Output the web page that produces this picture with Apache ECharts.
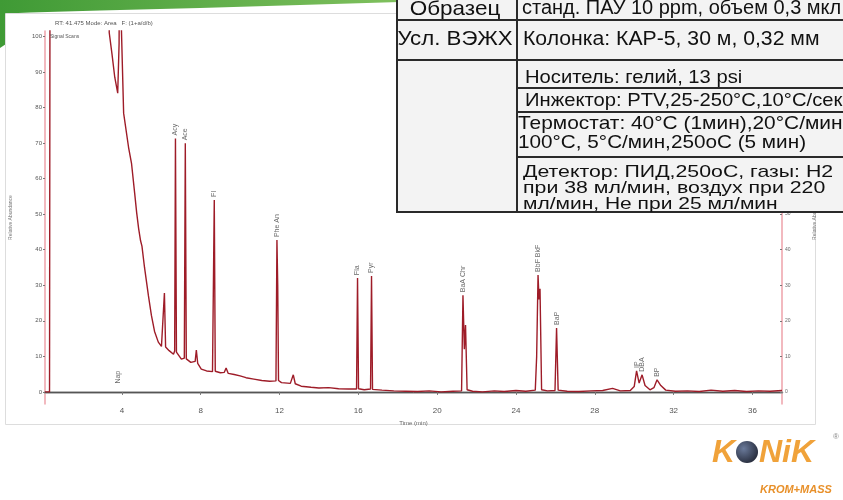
<!DOCTYPE html>
<html><head><meta charset="utf-8">
<script src="https://cdn.jsdelivr.net/npm/echarts@6/dist/echarts.min.js"></script>
<style>html,body{margin:0;padding:0;background:#fff}#c{width:843px;height:500px}</style>
</head><body><div id="c"></div>
<script>
// Chromatogram trace: [retention time (min), relative abundance (%)]
const trace = [
[0.10,0],[0.33,0],[0.36,150],[3.33,150],[3.36,101],[3.50,95],[3.64,88.5],[3.79,84],[3.86,98],[3.89,140],[3.94,110],
[4.09,78.4],[4.34,68.8],[4.49,64.3],[4.65,55.9],[4.75,50.5],[4.85,46.0],[4.95,42.5],[5.02,41.0],[5.15,35.0],[5.35,27.0],
[5.50,21.5],[5.66,17.0],[5.85,14.0],[6.01,12.8],[6.10,13.0],[6.16,27.8],[6.22,12.6],[6.40,11.6],[6.62,10.6],[6.68,11.5],
[6.72,71.3],[6.77,11.2],[7.02,9.2],[7.17,9.5],[7.22,69.9],[7.27,9.3],[7.50,8.3],[7.72,8.6],[7.78,11.8],[7.85,8.0],
[8.03,6.4],[8.30,5.9],[8.60,5.7],[8.65,6.0],[8.69,54.0],[8.74,5.8],[9.00,5.4],[9.20,5.5],[9.29,6.7],[9.40,5.2],
[9.70,4.9],[10.0,4.5],[10.3,4.0],[10.7,3.6],[11.1,3.2],[11.5,3.0],[11.82,3.1],[11.87,42.7],[11.91,30],[11.95,3.2],
[12.1,2.6],[12.55,2.4],[12.70,4.8],[12.80,2.3],[13.1,1.6],[13.6,1.3],[14.0,1.1],[14.5,1.2],[15.0,0.9],[15.5,0.8],
[15.91,0.8],[15.96,32.0],[16.01,0.9],[16.30,0.6],[16.62,0.8],[16.67,32.6],[16.72,0.7],[17.2,0.5],[17.8,0.3],[18.4,0.2],
[19.0,0.1],[19.6,0.3],[20.2,0.0],[20.8,0.2],[21.24,0.3],[21.31,27.2],[21.38,12],[21.44,18.8],[21.52,0.6],[21.8,0.2],
[22.3,0.0],[22.9,0.3],[23.4,0.1],[24.0,0.4],[24.5,0.2],[24.98,0.5],[25.05,10],[25.12,32.9],[25.17,26],[25.22,29],
[25.30,0.6],[25.6,0.3],[25.98,0.4],[26.06,18.0],[26.14,0.5],[26.6,0.2],[27.2,0.1],[27.8,0.3],[28.4,0.4],[28.9,1.0],
[29.3,0.3],[29.8,0.4],[30.00,1.5],[30.12,5.9],[30.25,2.5],[30.40,4.8],[30.55,1.8],[30.8,0.6],[31.0,1.2],[31.16,3.4],
[31.35,1.8],[31.6,0.5],[32.1,0.2],[32.7,0.3],[33.3,0.1],[33.9,0.5],[34.5,0.2],[35.1,0.4],[35.7,0.1],[36.3,0.3],
[36.9,0.2],[37.5,0.4]
];
const peakNames = ['Nap','Acy','Ace','Fl','Phe An','Fla','Pyr','BaA Chr','BbF BkF','BaP','IP','DBA','BP'];
const peakRT    = [3.80, 6.72, 7.22, 8.69, 11.87, 15.96, 16.67, 21.31, 25.12, 26.06, 30.12, 30.40, 31.16];
const peakTop   = [1.5, 71.3, 69.9, 54.0, 42.7, 32.0, 32.6, 27.2, 32.9, 18.0, 5.9, 4.8, 3.4];
const xTicks = [4, 8, 12, 16, 20, 24, 28, 32, 36];
const yTicks = [0, 10, 20, 30, 40, 50, 60, 70, 80, 90, 100];
const tableLeft = ['Образец', 'Усл. ВЭЖХ'];
const tableRight = ['станд. ПАУ 10 ppm, объем 0,3 мкл', 'Колонка: КАР-5, 30 м, 0,32 мм'];
const conditions = [
  ['Носитель: гелий, 13 psi'],
  ['Инжектор: PTV,25-250°C,10°C/сек'],
  ['Термостат: 40°C (1мин),20°C/мин', '100°C, 5°C/мин,250oC (5 мин)'],
  ['Детектор: ПИД,250оС, газы: Н2', 'при 38 мл/мин, воздух при 220', 'мл/мин, Не при 25 мл/мин']
];

const FONT = "'Liberation Sans', Arial, sans-serif";
const chart = echarts.init(document.getElementById('c'), null, {renderer: 'canvas'});

const g = [];
// green swoosh
g.push({type:'polygon', z:0, shape:{points:[[0,0],[440,0],[400,2],[300,5],[200,8],[100,10.5],[30,12.5],[6,13.5],[6,44],[0,48]]},
  style:{fill:new echarts.graphic.LinearGradient(0,0,1,0,[{offset:0,color:'#3f9a35'},{offset:1,color:'#86c462'}])}});
g.push({type:'rect', z:0, shape:{x:5.5,y:13.5,width:810,height:411}, style:{fill:'none', stroke:'#dddddd', lineWidth:1}});
g.push({type:'text', z:5, style:{x:55, y:23, text:'RT: 41.475 Mode: Area   F: (1+a/d/b)', font:'6px '+FONT, fill:'#555', textVerticalAlign:'middle'}});
g.push({type:'text', z:5, style:{x:50, y:37, text:'Signal Scans', font:'5px '+FONT, fill:'#555', textVerticalAlign:'middle'}});

// table
g.push({type:'rect', z:100, shape:{x:397, y:-2, width:450, height:214}, style:{fill:'#f3f3f3', stroke:'#2a2a2a', lineWidth:2}});
const hl = (x1,y,x2)=>g.push({type:'line', z:101, shape:{x1:x1,y1:y,x2:x2,y2:y}, style:{stroke:'#2a2a2a', lineWidth:2}});
hl(397,20,845); hl(397,60,845); hl(517,88,845); hl(517,112,845); hl(517,157,845);
g.push({type:'line', z:101, shape:{x1:517,y1:-2,x2:517,y2:212}, style:{stroke:'#2a2a2a', lineWidth:2}});
const tx = (x,y,t,size,sx,align)=>g.push({type:'text', z:102, x:x, y:y, scaleX:sx||1,
  style:{x:0,y:0,text:t,font:size+'px '+FONT,fill:'#111',textAlign:align||'left',textVerticalAlign:'middle'}});
tx(455,9,tableLeft[0],21,1.07,'center'); tx(522,9,tableRight[0],19.5,1.025);
tx(455,39,tableLeft[1],21,1.06,'center'); tx(523,39,tableRight[1],20,1.06);
tx(525,78,conditions[0][0],19,1.063);
tx(525,101,conditions[1][0],19,1.063);
tx(518,124,conditions[2][0],18.5,1.13); tx(518,143,conditions[2][1],18.5,1.12);
tx(523,172,conditions[3][0],17,1.253); tx(523,188,conditions[3][1],17,1.253); tx(523,204,conditions[3][2],17,1.235);

// logo
const orange = '#f0a23a';
g.push({type:'text', z:10, style:{x:712, y:453, text:'K', font:'italic bold 32px '+FONT, fill:orange, textVerticalAlign:'middle'}});
g.push({type:'circle', z:10, shape:{cx:747, cy:452, r:11}, style:{fill:new echarts.graphic.RadialGradient(0.35,0.35,0.8,[{offset:0,color:'#6a7a9a'},{offset:1,color:'#1e2230'}])}});
g.push({type:'text', z:10, style:{x:759, y:453, text:'NiK', font:'italic bold 32px '+FONT, fill:orange, textVerticalAlign:'middle'}});
g.push({type:'text', z:10, style:{x:833, y:437, text:'®', font:'8px '+FONT, fill:'#888', textVerticalAlign:'middle'}});
g.push({type:'text', z:10, style:{x:760, y:490, text:'KROM+MASS', font:'italic bold 11px '+FONT, fill:'#e8902a', textVerticalAlign:'middle'}});

const option = {
  animation:false,
  backgroundColor:'#fff',
  grid:{left:43, right:61, top:31, bottom:96},
  xAxis:[{
    type:'value', min:0.1, max:37.5,
    axisLine:{lineStyle:{color:'#a0a0a0', width:2.5}},
    axisTick:{customValues:xTicks, length:3, lineStyle:{color:'#777'}},
    axisLabel:{customValues:xTicks, fontSize:8, color:'#555', margin:3, fontFamily:FONT},
    splitLine:{show:false},
    name:'Time (min)', nameLocation:'middle', nameGap:14, nameTextStyle:{fontSize:6, color:'#666'}
  },{
    type:'value', position:'top', min:0.1, max:37.5,
    axisLine:{lineStyle:{color:'#555', width:1}}, axisTick:{show:false}, axisLabel:{show:false}, splitLine:{show:false}
  }],
  yAxis:[{
    type:'value', min:-3.4, max:101.5, position:'left',
    axisLine:{show:true, lineStyle:{color:'#eea2aa', width:1.5}},
    axisTick:{show:true, customValues:yTicks, length:2, lineStyle:{color:'#777'}},
    axisLabel:{customValues:yTicks, fontSize:6, color:'#555', margin:3, fontFamily:FONT},
    splitLine:{show:false},
    name:'Relative Abundance', nameLocation:'middle', nameGap:32, nameRotate:90, nameTextStyle:{fontSize:5, color:'#777'}
  },{
    type:'value', min:-3.4, max:101.5, position:'right',
    axisLine:{show:true, lineStyle:{color:'#eea2aa', width:1.5}},
    axisTick:{show:true, customValues:yTicks, length:2, inside:true, lineStyle:{color:'#777'}},
    axisLabel:{customValues:yTicks, fontSize:5, color:'#666', margin:3, fontFamily:FONT},
    splitLine:{show:false},
    name:'Relative Abundance', nameLocation:'middle', nameGap:30, nameRotate:90, nameTextStyle:{fontSize:5, color:'#777'}
  }],
  series:[{
    type:'line', data:trace, xAxisIndex:0, yAxisIndex:0, showSymbol:false, clip:true, z:3,
    lineStyle:{color:'#9e1c28', width:1.4}
  },{
    type:'scatter', xAxisIndex:0, yAxisIndex:0, symbolSize:0, z:4,
    data: peakRT.map((t,i)=>[t, peakTop[i]]),
    label:{show:true, position:'top', distance:3, rotate:90, align:'left', verticalAlign:'middle',
      fontSize:7, color:'#444', fontFamily:FONT,
      formatter:p=>peakNames[p.dataIndex]}
  }],
  graphic:{elements:g}
};
chart.setOption(option);
</script></body></html>
